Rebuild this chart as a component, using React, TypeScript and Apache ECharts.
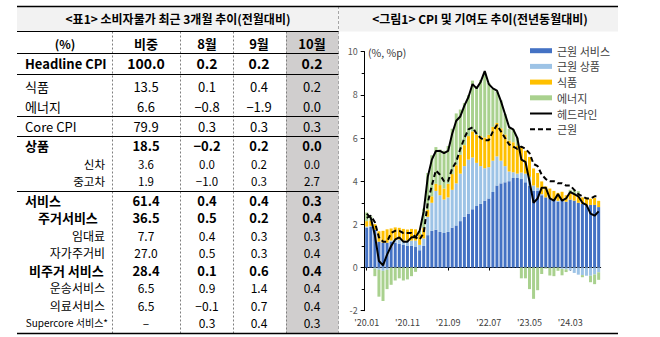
import React, { useEffect, useRef } from "react";
import * as echarts from "echarts";

const FONT = '"Noto Sans CJK KR", "Noto Sans", sans-serif';

// ---------- chart data (YoY, %, %p) ----------
const months = [
  "'20.01", "'20.02", "'20.03", "'20.04", "'20.05", "'20.06", "'20.07", "'20.08", "'20.09", "'20.10", "'20.11", "'20.12",
  "'21.01", "'21.02", "'21.03", "'21.04", "'21.05", "'21.06", "'21.07", "'21.08", "'21.09", "'21.10", "'21.11", "'21.12",
  "'22.01", "'22.02", "'22.03", "'22.04", "'22.05", "'22.06", "'22.07", "'22.08", "'22.09", "'22.10", "'22.11", "'22.12",
  "'23.01", "'23.02", "'23.03", "'23.04", "'23.05", "'23.06", "'23.07", "'23.08", "'23.09", "'23.10", "'23.11", "'23.12",
  "'24.01", "'24.02", "'24.03", "'24.04", "'24.05", "'24.06", "'24.07", "'24.08", "'24.09", "'24.10",
];

const coreServices = [
  1.85, 1.88, 1.75, 1.2, 1.15, 1.15, 1.2, 1.15, 1.1, 1.05, 1.0, 1.0,
  0.95, 0.8, 1.0, 1.5, 1.7, 1.75, 1.65, 1.6, 1.65, 1.85, 1.95, 2.15,
  2.35, 2.5, 2.7, 2.85, 2.95, 3.1, 3.2, 3.5, 3.8, 3.9, 3.95, 4.0,
  4.15, 4.15, 4.1, 3.95, 3.8, 3.55, 3.55, 3.35, 3.25, 3.2, 3.15, 3.05,
  3.15, 3.05, 3.15, 3.1, 3.0, 2.95, 2.9, 2.9, 2.9, 2.8,
];
const coreGoods = [
  0.05, 0.05, -0.05, -0.1, -0.15, -0.1, 0.05, 0.15, 0.2, 0.2, 0.25, 0.25,
  0.3, 0.25, 0.35, 0.85, 1.3, 1.8, 1.7, 1.55, 1.6, 1.75, 1.95, 2.2,
  2.35, 2.5, 2.4, 2.0, 1.75, 1.5, 1.45, 1.45, 1.35, 1.05, 0.75, 0.45,
  0.27, 0.2, 0.3, 0.4, 0.4, 0.25, 0.15, 0.05, 0.0, -0.02, 0.0, 0.04,
  -0.06, -0.08, -0.14, -0.25, -0.33, -0.35, -0.38, -0.38, -0.32, -0.22,
];
const food = [
  0.25, 0.25, 0.26, 0.48, 0.55, 0.62, 0.56, 0.56, 0.54, 0.54, 0.51, 0.54,
  0.52, 0.49, 0.48, 0.33, 0.3, 0.33, 0.47, 0.51, 0.63, 0.73, 0.84, 0.87,
  0.97, 1.09, 1.21, 1.3, 1.39, 1.43, 1.5, 1.57, 1.55, 1.5, 1.46, 1.43,
  1.39, 1.31, 1.17, 1.06, 0.92, 0.79, 0.68, 0.59, 0.51, 0.46, 0.4, 0.37,
  0.36, 0.3, 0.3, 0.3, 0.29, 0.3, 0.3, 0.29, 0.32, 0.29,
];
const energy = [
  0.4, 0.2, -0.35, -1.25, -1.4, -0.9, -0.8, -0.6, -0.5, -0.6, -0.55, -0.4,
  -0.2, 0.15, 0.9, 1.7, 1.9, 1.7, 1.65, 1.75, 1.75, 2.1, 2.4, 2.1,
  1.95, 1.9, 2.35, 2.25, 2.6, 3.0, 2.4, 1.75, 1.45, 1.3, 0.95, 0.55,
  0.6, 0.35, -0.5, -0.5, -1.0, -1.45, -1.05, -0.3, -0.05, -0.35, -0.4, -0.15,
  -0.3, -0.13, 0.15, 0.2, 0.25, -0.1, 0.05, -0.3, -0.45, -0.35,
];
const headline = [
  2.5, 2.3, 1.5, 0.3, 0.1, 0.6, 1.0, 1.3, 1.4, 1.2, 1.2, 1.4,
  1.4, 1.7, 2.6, 4.2, 5.0, 5.4, 5.4, 5.3, 5.4, 6.2, 6.8, 7.0,
  7.5, 7.9, 8.5, 8.3, 8.6, 9.1, 8.5, 8.3, 8.2, 7.7, 7.1, 6.5,
  6.4, 6.0, 5.0, 4.9, 4.0, 3.0, 3.2, 3.7, 3.7, 3.2, 3.1, 3.4,
  3.1, 3.2, 3.5, 3.4, 3.3, 3.0, 2.9, 2.5, 2.4, 2.6,
];
const core = [
  2.3, 2.4, 2.1, 1.4, 1.2, 1.2, 1.6, 1.7, 1.7, 1.6, 1.6, 1.6,
  1.4, 1.3, 1.6, 3.0, 3.8, 4.5, 4.3, 4.0, 4.0, 4.6, 4.9, 5.5,
  6.0, 6.4, 6.5, 6.2, 6.0, 5.9, 5.9, 6.3, 6.6, 6.3, 6.0, 5.7,
  5.6, 5.5, 5.6, 5.5, 5.3, 4.8, 4.7, 4.3, 4.1, 4.0, 4.0, 3.9,
  3.9, 3.8, 3.8, 3.6, 3.4, 3.3, 3.2, 3.2, 3.3, 3.3,
];
const seriesNames = ["근원 서비스", "근원 상품", "식품", "에너지", "헤드라인", "근원"];

// ---------- table data (MoM, %) ----------
const tableTitle = "<표1> 소비자물가 최근 3개월 추이(전월대비)";
const chartTitle = "<그림1> CPI 및 기여도 추이(전년동월대비)";
const tableHeaders = ["(%)", "비중", "8월", "9월", "10월"];
const tableLabels = [
  "Headline CPI", "식품", "에너지", "Core CPI", "상품", "신차", "중고차", "서비스",
  "주거서비스", "임대료", "자가주거비", "비주거 서비스", "운송서비스", "의료서비스", "Supercore 서비스*",
];
const weightCol = [100.0, 13.5, 6.6, 79.9, 18.5, 3.6, 1.9, 61.4, 36.5, 7.7, 27.0, 28.4, 6.5, 6.5, null];
const augCol = [0.2, 0.1, -0.8, 0.3, -0.2, 0.0, -1.0, 0.4, 0.5, 0.4, 0.5, 0.1, 0.9, -0.1, 0.3];
const sepCol = [0.2, 0.4, -1.9, 0.3, 0.2, 0.2, 0.3, 0.4, 0.2, 0.3, 0.3, 0.6, 1.4, 0.7, 0.4];
const octCol = [0.2, 0.2, 0.0, 0.3, 0.0, 0.0, 2.7, 0.3, 0.4, 0.3, 0.4, 0.4, 0.4, 0.4, 0.3];

// ---------- table layout (positions / styles) ----------
const rowY = [63, 86, 106, 126.5, 145, 163.5, 181, 200, 217.5, 235, 252.5, 270, 287.5, 305, 322];
const rowSize = [14, 13, 13, 13, 13, 11.5, 11.5, 13, 13, 12, 12, 13, 12, 12, 12];
const rowBold = [true, false, false, false, true, false, false, true, true, false, false, true, false, false, false];
const labelX = [25, 25, 25, 25, 25, 105, 105, 25, 38, 105, 105, 29, 105, 105, 108];
const labelAlign = ["left", "left", "left", "left", "left", "right", "right", "left", "left", "right", "right", "left", "right", "right", "right"];
const labelSize = [13, 13, 13, 13, 13, 11.5, 11.5, 13, 13, 12, 12, 13, 12, 12, 10];
const colX = [65, 146, 207, 259, 312];

function fmt(v: number | null) {
  if (v === null || v === undefined) return "–";
  return (v < 0 ? "−" : "") + Math.abs(v).toFixed(1);
}

function txt(text: string, x: number, y: number, size: number, bold: boolean, align = "center", fill = "#000") {
  return {
    type: "text",
    silent: true,
    z: 10,
    x,
    y,
    style: {
      text,
      fill,
      fontSize: size,
      fontFamily: FONT,
      fontWeight: bold ? "bold" : "normal",
      textAlign: align,
      textVerticalAlign: "middle",
      align,
      verticalAlign: "middle",
    },
  };
}
function rect(x: number, y: number, w: number, h: number, fill: string) {
  return { type: "rect", silent: true, z: 1, shape: { x, y, width: w, height: h }, style: { fill } };
}
function ln(x1: number, y1: number, x2: number, y2: number, stroke: string, lw: number, dash?: number[]) {
  return {
    type: "line",
    silent: true,
    z: 5,
    shape: { x1, y1, x2, y2 },
    style: { stroke, lineWidth: lw, lineDash: dash || null },
  };
}

export default function App() {
  const ref = useRef<HTMLDivElement>(null);
  useEffect(() => {
    if (!ref.current) return;
    const chart = echarts.init(ref.current, null, { renderer: "svg" });

    const g: any[] = [];
    g.push(rect(17, 6, 321.5, 25.5, "#F2F2F2"));
    g.push(rect(339, 6, 279, 25.5, "#F2F2F2"));
    g.push(rect(286, 31.5, 52.5, 302, "#D0CECE"));
    [112.5, 180.5, 233.5, 286.5].forEach((x) => g.push(ln(x, 31.5, x, 333, "#7F7F7F", 1, [2, 2])));
    g.push(ln(338.5, 6, 338.5, 333, "#A6A6A6", 1, [3, 2]));
    g.push(ln(17, 6.5, 618, 6.5, "#000", 1.5));
    [31.5, 53.5, 74.5, 116.5, 136.5, 191.5].forEach((y) => g.push(ln(17, y, 338.5, y, "#000", 1)));
    g.push(ln(17, 333.5, 618, 333.5, "#000", 1.5));

    g.push(txt(tableTitle, 178, 18.5, 12, true));
    g.push(txt(chartTitle, 480, 18.5, 12, true));
    tableHeaders.forEach((h, i) => g.push(txt(h, colX[i], 43, i === 0 ? 12 : 13, true)));

    tableLabels.forEach((lab, r) => {
      g.push(txt(lab, labelX[r], rowY[r], labelSize[r], rowBold[r], labelAlign[r]));
      const vals = [weightCol[r], augCol[r], sepCol[r], octCol[r]];
      vals.forEach((v, c) => g.push(txt(fmt(v as any), colX[c + 1], rowY[r], rowSize[r], rowBold[r])));
    });

    g.push(txt("(%, %p)", 368, 52, 10.5, false, "left", "#333"));

    const barCommon = { type: "bar", stack: "total", barWidth: 3, xAxisIndex: 0, yAxisIndex: 0 };

    const option: any = {
      animation: false,
      backgroundColor: "#fff",
      textStyle: { fontFamily: FONT },
      graphic: { elements: g },
      grid: { left: 364.7, top: 51.7, width: 236, height: 259, containLabel: false, outerBoundsMode: "none" },
      legend: {
        orient: "vertical",
        left: 529,
        top: 44.7,
        padding: 0,
        itemWidth: 22,
        itemHeight: 5,
        itemGap: 3.7,
        textStyle: { fontSize: 11, color: "#404040", fontFamily: FONT, lineHeight: 12 },
        data: [
          { name: seriesNames[0], icon: "rect" },
          { name: seriesNames[1], icon: "rect" },
          { name: seriesNames[2], icon: "rect" },
          { name: seriesNames[3], icon: "rect" },
          { name: seriesNames[4], itemStyle: { opacity: 0 } },
          { name: seriesNames[5], itemStyle: { opacity: 0 } },
        ],
      },
      xAxis: [
        {
          type: "category",
          data: months,
          position: "bottom",
          axisLine: { onZero: true, lineStyle: { color: "#000", width: 1 } },
          axisTick: { show: true, interval: 9, alignWithLabel: true, length: 3, lineStyle: { color: "#000" } },
          axisLabel: { show: false },
          splitLine: { show: false },
        },
        {
          type: "category",
          data: months,
          position: "bottom",
          axisLine: { show: false, onZero: false },
          axisTick: { show: false },
          axisLabel: { show: true, interval: 9, fontSize: 9, color: "#404040", margin: 7, fontFamily: FONT },
          splitLine: { show: false },
        },
      ],
      yAxis: {
        type: "value",
        min: -2,
        max: 10,
        interval: 2,
        axisLine: { show: true, lineStyle: { color: "#000", width: 1 } },
        axisTick: { show: true, length: 4, lineStyle: { color: "#000" } },
        minorTick: { show: true, splitNumber: 2, length: 3, lineStyle: { color: "#000" } },
        splitLine: { show: false },
        axisLabel: { fontSize: 9, color: "#595959", margin: 7, fontFamily: FONT },
      },
      series: [
        { ...barCommon, name: seriesNames[0], data: coreServices, itemStyle: { color: "#4472C4" } },
        { ...barCommon, name: seriesNames[1], data: coreGoods, itemStyle: { color: "#9DC3E6" } },
        { ...barCommon, name: seriesNames[2], data: food, itemStyle: { color: "#FFC000" } },
        { ...barCommon, name: seriesNames[3], data: energy, itemStyle: { color: "#A9D18E" } },
        {
          type: "line",
          name: seriesNames[4],
          data: headline,
          symbol: "none",
          z: 5,
          lineStyle: { color: "#000", width: 2 },
          itemStyle: { color: "#000" },
        },
        {
          type: "line",
          name: seriesNames[5],
          data: core,
          symbol: "none",
          z: 6,
          lineStyle: { color: "#000", width: 2, type: [5, 3] },
          itemStyle: { color: "#000" },
        },
      ],
    };
    chart.setOption(option);
    return () => chart.dispose();
  }, []);
  return (
    <div
      ref={ref}
      style={{ position: "absolute", left: 0, top: 0, width: 660, height: 337, background: "#fff" }}
    />
  );
}
